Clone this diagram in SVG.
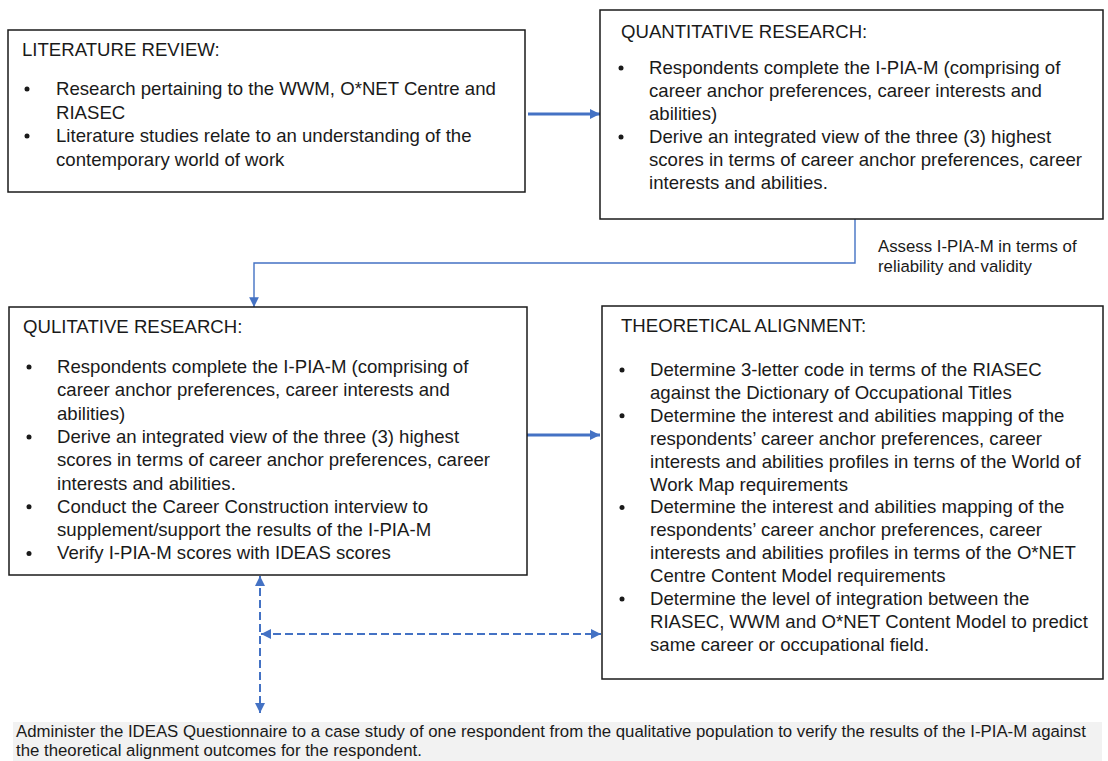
<svg xmlns="http://www.w3.org/2000/svg" width="1108" height="761" viewBox="0 0 1108 761">
  <defs>
    <style>
      .box { fill: #ffffff; stroke: #1a1a1a; stroke-width: 1.5; }
      .t { font-family: "Liberation Sans", Arial, sans-serif; font-size: 18.6px; fill: #1a1a1a; }
      .small { font-family: "Liberation Sans", Arial, sans-serif; font-size: 16.8px; fill: #1a1a1a; }
      .dot { fill: #1a1a1a; }
      .thick { stroke: #4472C4; stroke-width: 3.2; fill: none; }
      .thin { stroke: #4472C4; stroke-width: 1.4; fill: none; }
      .dash { stroke: #4472C4; stroke-width: 2; fill: none; stroke-dasharray: 8 4; }
      .band { fill: #f2f2f2; }
    </style>
    <marker id="headBig" viewBox="0 0 10 10" refX="10" refY="5" markerWidth="3.2" markerHeight="3.2" orient="auto" markerUnits="strokeWidth">
      <path d="M0,0 L10,5 L0,10 z" fill="#4472C4"/>
    </marker>
    <marker id="headThin" viewBox="0 0 10 10" refX="10" refY="5" markerWidth="7" markerHeight="7" orient="auto" markerUnits="strokeWidth">
      <path d="M0,0 L10,5 L0,10 z" fill="#4472C4"/>
    </marker>
    <marker id="headDash" viewBox="0 0 10 10" refX="10" refY="5" markerWidth="5" markerHeight="5" orient="auto-start-reverse" markerUnits="strokeWidth">
      <path d="M0,0 L10,5 L0,10 z" fill="#4472C4"/>
    </marker>
  </defs>

  <!-- connectors -->
  <g id="connectors">
    <line class="thick" x1="528" y1="114" x2="600" y2="114" marker-end="url(#headBig)"/>
    <line class="thick" x1="526" y1="435" x2="600" y2="435" marker-end="url(#headBig)"/>
    <polyline class="thin" points="855,219 855,263 254,263 254,307" marker-end="url(#headThin)"/>
    <line class="dash" x1="260" y1="576" x2="260" y2="713" marker-start="url(#headDash)" marker-end="url(#headDash)"/>
    <line class="dash" x1="261" y1="634" x2="601" y2="634" marker-start="url(#headDash)" marker-end="url(#headDash)"/>
    <text class="small" x="878" y="252">Assess I-PIA-M in terms of</text>
    <text class="small" x="878" y="272">reliability and validity</text>
  </g>

  <!-- literature review -->
  <g id="literature-review">
    <rect class="box" x="8" y="30" width="517" height="162"/>
    <text class="t" x="22" y="56">LITERATURE REVIEW:</text>
    <circle class="dot" cx="27" cy="89" r="2.5"/>
    <text class="t" x="56" y="95">Research pertaining to the WWM, O*NET Centre and</text>
    <text class="t" x="56" y="118.5">RIASEC</text>
    <circle class="dot" cx="27" cy="136" r="2.5"/>
    <text class="t" x="56" y="142">Literature studies relate to an understanding of the</text>
    <text class="t" x="56" y="165.5">contemporary world of work</text>
  </g>

  <!-- quantitative research -->
  <g id="quantitative-research">
    <rect class="box" x="600" y="10" width="503" height="209"/>
    <text class="t" x="621" y="38">QUANTITATIVE RESEARCH:</text>
    <circle class="dot" cx="621" cy="68" r="2.5"/>
    <text class="t" x="649" y="74">Respondents complete the I-PIA-M (comprising of</text>
    <text class="t" x="649" y="97">career anchor preferences, career interests and</text>
    <text class="t" x="649" y="120">abilities)</text>
    <circle class="dot" cx="621" cy="137" r="2.5"/>
    <text class="t" x="649" y="143">Derive an integrated view of the three (3) highest</text>
    <text class="t" x="649" y="166">scores in terms of career anchor preferences, career</text>
    <text class="t" x="649" y="189">interests and abilities.</text>
  </g>

  <!-- qualitative research -->
  <g id="qualitative-research">
    <rect class="box" x="9" y="307" width="518" height="268"/>
    <text class="t" x="23" y="333">QULITATIVE RESEARCH:</text>
    <circle class="dot" cx="29" cy="367" r="2.5"/>
    <text class="t" x="57" y="373">Respondents complete the I-PIA-M (comprising of</text>
    <text class="t" x="57" y="396.3">career anchor preferences, career interests and</text>
    <text class="t" x="57" y="419.6">abilities)</text>
    <circle class="dot" cx="29" cy="436.9" r="2.5"/>
    <text class="t" x="57" y="442.9">Derive an integrated view of the three (3) highest</text>
    <text class="t" x="57" y="466.2">scores in terms of career anchor preferences, career</text>
    <text class="t" x="57" y="489.5">interests and abilities.</text>
    <circle class="dot" cx="29" cy="506.8" r="2.5"/>
    <text class="t" x="57" y="512.8">Conduct the Career Construction interview to</text>
    <text class="t" x="57" y="536.1">supplement/support the results of the I-PIA-M</text>
    <circle class="dot" cx="29" cy="553.4" r="2.5"/>
    <text class="t" x="57" y="559.4">Verify I-PIA-M scores with IDEAS scores</text>
  </g>

  <!-- theoretical alignment -->
  <g id="theoretical-alignment">
    <rect class="box" x="602" y="306" width="501" height="373"/>
    <text class="t" x="621" y="332">THEORETICAL ALIGNMENT:</text>
    <circle class="dot" cx="622" cy="370" r="2.5"/>
    <text class="t" x="650" y="376">Determine 3-letter code in terms of the RIASEC</text>
    <text class="t" x="650" y="398.9">against the Dictionary of Occupational Titles</text>
    <circle class="dot" cx="622" cy="415.8" r="2.5"/>
    <text class="t" x="650" y="421.8">Determine the interest and abilities mapping of the</text>
    <text class="t" x="650" y="444.7">respondents’ career anchor preferences, career</text>
    <text class="t" x="650" y="467.6">interests and abilities profiles in terns of the World of</text>
    <text class="t" x="650" y="490.5">Work Map requirements</text>
    <circle class="dot" cx="622" cy="507.4" r="2.5"/>
    <text class="t" x="650" y="513.4">Determine the interest and abilities mapping of the</text>
    <text class="t" x="650" y="536.3">respondents’ career anchor preferences, career</text>
    <text class="t" x="650" y="559.2">interests and abilities profiles in terms of the O*NET</text>
    <text class="t" x="650" y="582.1">Centre Content Model requirements</text>
    <circle class="dot" cx="622" cy="599" r="2.5"/>
    <text class="t" x="650" y="605">Determine the level of integration between the</text>
    <text class="t" x="650" y="627.9">RIASEC, WWM and O*NET Content Model to predict</text>
    <text class="t" x="650" y="650.8">same career or occupational field.</text>
  </g>

  <!-- case study note -->
  <g id="case-study">
    <rect class="band" x="13" y="722" width="1089" height="39"/>
    <text class="small" x="16" y="737">Administer the IDEAS Questionnaire to a case study of one respondent from the qualitative population to verify the results of the I-PIA-M against</text>
    <text class="small" x="16" y="756">the theoretical alignment outcomes for the respondent.</text>
  </g>
</svg>
